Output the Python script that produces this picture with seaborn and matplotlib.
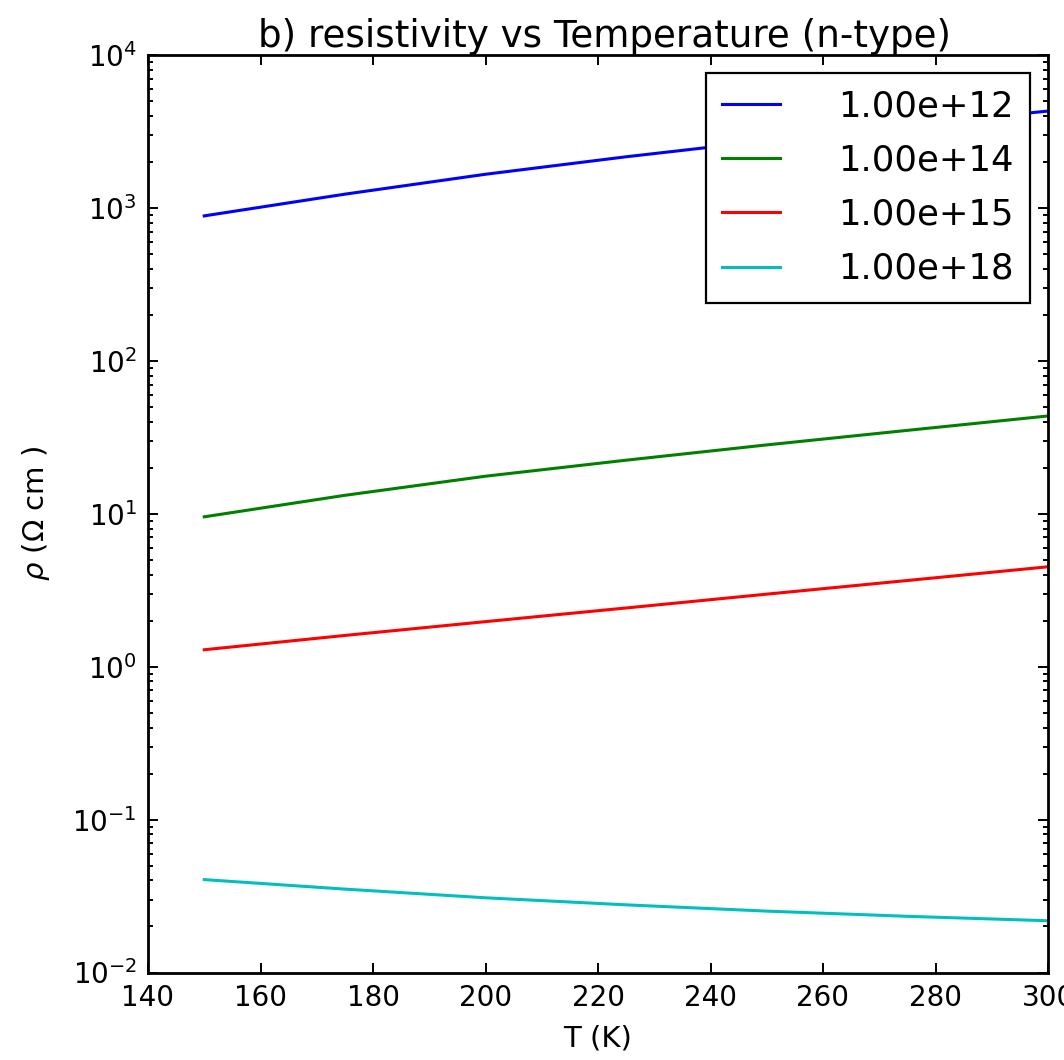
import matplotlib
matplotlib.use("Agg")
import matplotlib.pyplot as plt
import seaborn as sns
import pandas as pd

# ---- data ----
temperature = [150, 175, 200, 225, 250, 275, 300]
rho_1e12 = [887, 1230, 1660, 2160, 2750, 3470, 4300]
rho_1e14 = [9.55, 13.2, 17.6, 22.4, 28.2, 35.1, 43.6]
rho_1e15 = [1.29, 1.60, 1.97, 2.42, 2.98, 3.66, 4.50]
rho_1e18 = [0.0405, 0.0351, 0.0308, 0.0277, 0.0252, 0.0233, 0.0218]
labels = ["1.00e+12", "1.00e+14", "1.00e+15", "1.00e+18"]
colors = ["#0000ff", "#008000", "#ff0000", "#00bfbf"]

series = [rho_1e12, rho_1e14, rho_1e15, rho_1e18]
rows = []
for lab, vals in zip(labels, series):
    for t, v in zip(temperature, vals):
        rows.append({"T": t, "rho": v, "doping": lab})
df = pd.DataFrame(rows)

plt.rcParams["font.family"] = ["DejaVu Sans"]
plt.rcParams["mathtext.fontset"] = "dejavusans"
plt.rcParams["axes.unicode_minus"] = False

fig = plt.figure(figsize=(10.64, 10.60), dpi=100)
ax = fig.add_axes([148 / 1064, 1 - 972.5 / 1060, 900 / 1064, 917.5 / 1060])

sns.lineplot(data=df, x="T", y="rho", hue="doping", hue_order=labels,
             palette=dict(zip(labels, colors)), linewidth=2.2, ax=ax,
             legend=True)

ax.set_yscale("log")
ax.set_xlim(140, 300)
ax.set_ylim(1e-2, 1e4)
ax.set_xticks([140, 160, 180, 200, 220, 240, 260, 280, 300])

for s in ax.spines.values():
    s.set_linewidth(2.0)
    s.set_color("black")
ax.tick_params(which="both", direction="in", top=True, right=True,
               width=1.4, colors="black")
ax.tick_params(which="major", length=7.5, labelsize=20, pad=8)
ax.tick_params(which="minor", length=3.8)
ax.grid(False)
ax.set_facecolor("white")

ax.set_title("b) resistivity vs Temperature (n-type)", fontsize=26.8, pad=4,
             x=0.507)
ax.set_xlabel("T (K)", fontsize=21, labelpad=9)
ax.set_ylabel(r"$\rho$ ($\Omega$ cm )", fontsize=21, labelpad=15)

handles, labs = ax.get_legend_handles_labels()
leg = ax.legend(handles, labs, loc="upper right", fontsize=25.5,
                frameon=True, fancybox=False, edgecolor="black",
                handlelength=1.62, handletextpad=1.65, labelspacing=0.57,
                borderpad=0.47, borderaxespad=0.5, framealpha=1)
leg.get_frame().set_linewidth(1.6)

fig.savefig("out.png", dpi=100, facecolor="white")
